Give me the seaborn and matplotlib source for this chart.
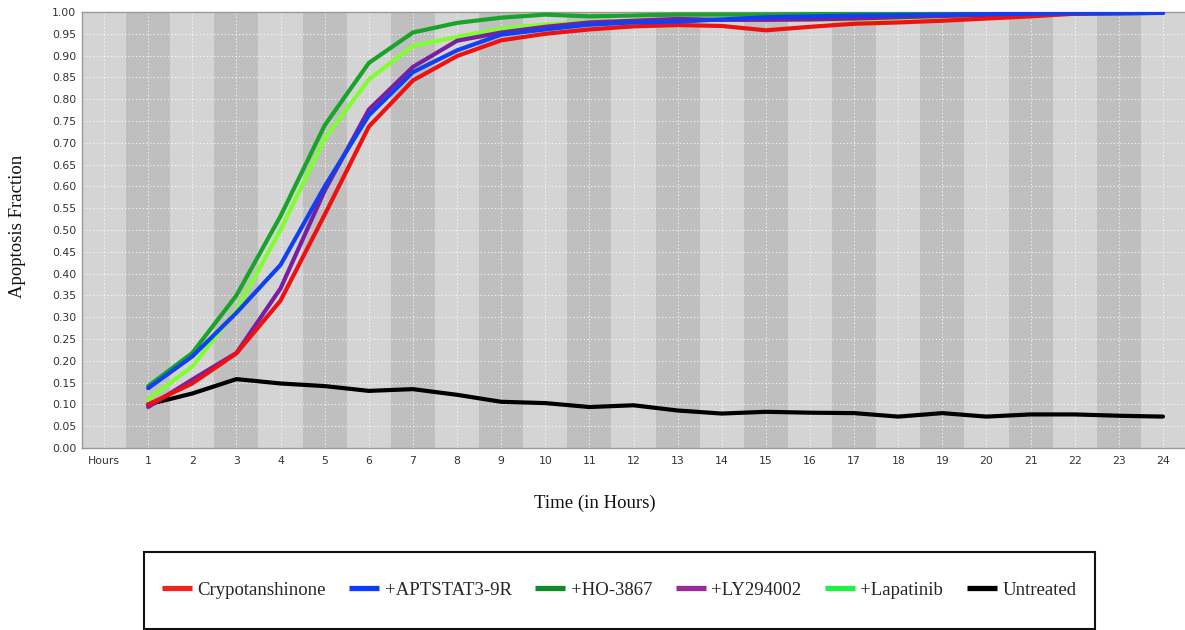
import matplotlib
matplotlib.use("Agg")
import matplotlib.pyplot as plt
from matplotlib.lines import Line2D
from matplotlib.patches import Rectangle
import seaborn as sns
import pandas as pd

# Time points (hours after treatment)
hours = list(range(1, 25))
tick_labels = ["Hours"] + [str(h) for h in hours]

series_names = ["Crypotanshinone", "+APTSTAT3-9R", "+HO-3867", "+LY294002", "+Lapatinib", "Untreated"]

crypotanshinone = [0.100, 0.148, 0.217, 0.338, 0.535, 0.737, 0.843, 0.899, 0.935, 0.950, 0.960, 0.967,
                   0.970, 0.968, 0.958, 0.966, 0.973, 0.976, 0.980, 0.985, 0.990, 0.996, 0.998, 0.998]
aptstat3 = [0.137, 0.210, 0.310, 0.420, 0.600, 0.763, 0.862, 0.912, 0.948, 0.960, 0.971, 0.976,
            0.978, 0.983, 0.988, 0.990, 0.992, 0.993, 0.994, 0.995, 0.996, 0.997, 0.997, 0.998]
ho3867 = [0.142, 0.218, 0.350, 0.532, 0.740, 0.883, 0.953, 0.975, 0.987, 0.994, 0.990, 0.992,
          0.994, 0.994, 0.994, 0.995, 0.996, 0.997, 0.998, 0.998, 0.999, 0.999, 0.999, 0.999]
ly294002 = [0.094, 0.157, 0.218, 0.366, 0.590, 0.776, 0.874, 0.934, 0.953, 0.966, 0.976, 0.980,
            0.984, 0.982, 0.982, 0.983, 0.985, 0.988, 0.991, 0.993, 0.995, 0.996, 0.997, 0.998]
lapatinib = [0.112, 0.187, 0.316, 0.500, 0.709, 0.845, 0.922, 0.943, 0.962, 0.971, 0.977, 0.980,
             0.981, 0.982, 0.982, 0.982, 0.983, 0.985, 0.989, 0.992, 0.995, 0.996, 0.997, 0.998]
untreated = [0.100, 0.125, 0.158, 0.148, 0.142, 0.131, 0.135, 0.122, 0.106, 0.103, 0.094, 0.098,
             0.086, 0.079, 0.083, 0.081, 0.080, 0.072, 0.080, 0.072, 0.077, 0.077, 0.074, 0.072]

values = {
    "Crypotanshinone": crypotanshinone,
    "+APTSTAT3-9R": aptstat3,
    "+HO-3867": ho3867,
    "+LY294002": ly294002,
    "+Lapatinib": lapatinib,
    "Untreated": untreated,
}

line_colors = {
    "Crypotanshinone": "#f01010",
    "+APTSTAT3-9R": "#1040f0",
    "+HO-3867": "#18a428",
    "+LY294002": "#7a1fa2",
    "+Lapatinib": "#80ff30",
    "Untreated": "#000000",
}
legend_colors = {
    "Crypotanshinone": "#e8281e",
    "+APTSTAT3-9R": "#0a3cff",
    "+HO-3867": "#108a2a",
    "+LY294002": "#9a2a9a",
    "+Lapatinib": "#22f044",
    "Untreated": "#000000",
}
draw_order = ["Untreated", "+Lapatinib", "+HO-3867", "+LY294002", "Crypotanshinone", "+APTSTAT3-9R"]

df = pd.DataFrame(
    [(h, name, v) for name in series_names for h, v in zip(hours, values[name])],
    columns=["hour", "series", "fraction"],
)

sns.set_theme(style="white")
serif = ["Liberation Serif", "DejaVu Serif"]

fig = plt.figure(figsize=(11.85, 6.30), dpi=100)
ax = fig.add_axes([82 / 1185, 1 - 448 / 630, 1103 / 1185, 436 / 630])

# alternating category bands
ax.set_facecolor("#d4d4d4")
for i in range(len(tick_labels)):
    if i % 2 == 1:
        ax.axvspan(i - 0.5, i + 0.5, color="#bfbfbf", lw=0, zorder=0)

sns.lineplot(data=df, x="hour", y="fraction", hue="series", hue_order=draw_order,
             palette=line_colors, linewidth=3.0, legend=False, ax=ax, zorder=3)

ax.set_xlim(-0.5, len(tick_labels) - 0.5)
ax.set_ylim(0, 1.0)
ax.set_xticks(range(len(tick_labels)))
ax.set_xticklabels(tick_labels)
yt = [i * 0.05 for i in range(21)]
ax.set_yticks(yt)
ax.set_yticklabels([f"{t:.2f}" for t in yt])
ax.tick_params(axis="both", length=0, labelsize=7.8, labelcolor="#333333")
ax.tick_params(axis="x", pad=6)
ax.tick_params(axis="y", pad=4)
ax.grid(True, color="white", linestyle=(0, (1.2, 2)), linewidth=0.8, alpha=0.75, zorder=1)
ax.set_axisbelow(True)
for side in ["left", "top", "bottom"]:
    ax.spines[side].set_color("#999999")
    ax.spines[side].set_linewidth(1.0)
ax.spines["right"].set_visible(False)
ax.set_xlabel("")
ax.set_ylabel("")

fig.text(18 / 1185, 1 - 226 / 630, "Apoptosis Fraction", rotation=90, ha="center", va="center",
         fontsize=13.5, family=serif, color="#111111")
fig.text(595 / 1185, 1 - 503 / 630, "Time (in Hours)", ha="center", va="center",
         fontsize=13.5, family=serif, color="#111111")

# legend box
fig.patches.append(Rectangle((144 / 1185, 1 - 629 / 630), 951 / 1185, 77 / 630,
                             transform=fig.transFigure, fill=False, edgecolor="#111111", linewidth=1.5))
handles = [Line2D([], [], color=legend_colors[n], linewidth=3.8, solid_capstyle="butt")
           for n in series_names]
fig.legend(handles, series_names, loc="center", bbox_to_anchor=(619 / 1185, 1 - 590 / 630),
           ncol=6, frameon=False, handlelength=1.6, handletextpad=0.3, columnspacing=1.25,
           prop={"family": serif, "size": 13.5})

fig.savefig("out.png", dpi=100)
